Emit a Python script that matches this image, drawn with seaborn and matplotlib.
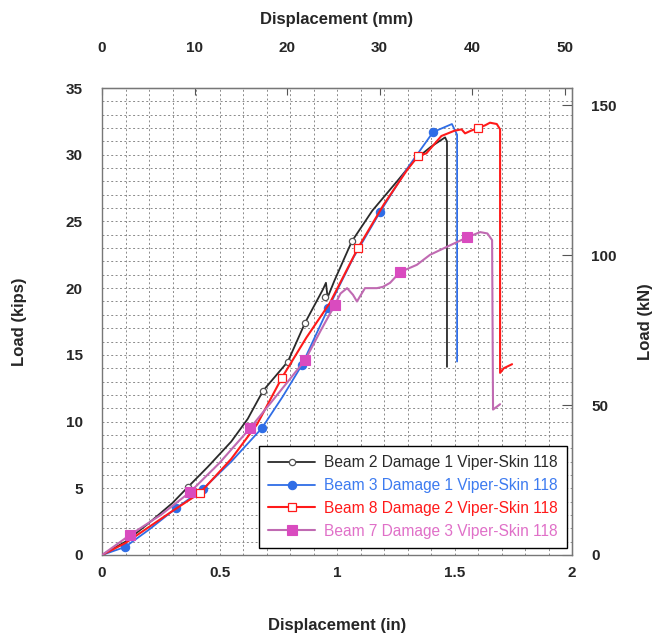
import numpy as np
import pandas as pd
import matplotlib
matplotlib.use("Agg")
import matplotlib.pyplot as plt
import seaborn as sns
from matplotlib.lines import Line2D
from matplotlib.ticker import MultipleLocator, FixedLocator

sns.set_style("white")
plt.rcParams["font.family"] = ["Liberation Sans", "DejaVu Sans"]

# ---------------- data (displacement in inches, load in kips) ----------------
labels = ["Beam 2 Damage 1 Viper-Skin 118", "Beam 3 Damage 1 Viper-Skin 118",
          "Beam 8 Damage 2 Viper-Skin 118", "Beam 7 Damage 3 Viper-Skin 118"]

b2_x = [0, 0.1, 0.2, 0.3, 0.366, 0.45, 0.55, 0.62, 0.685, 0.791, 0.864, 0.94, 0.953,
        0.96, 0.99, 1.063, 1.15, 1.26, 1.33, 1.40, 1.46, 1.468, 1.468]
b2_y = [0, 1.0, 2.4, 3.9, 5.1, 6.6, 8.5, 10.2, 12.3, 14.5, 17.4, 19.9, 20.4,
        19.3, 20.6, 23.5, 25.8, 28.1, 29.6, 30.6, 31.3, 31.0, 14.1]
b2_mx = [0.366, 0.685, 0.791, 0.864, 0.949, 1.063]
b2_my = [5.1, 12.3, 14.5, 17.4, 19.3, 23.5]

b3_x = [0, 0.098, 0.2, 0.315, 0.43, 0.55, 0.68, 0.77, 0.851, 0.963, 1.07, 1.183,
        1.3, 1.409, 1.489, 1.511, 1.511]
b3_y = [0, 0.6, 1.9, 3.5, 4.95, 7.0, 9.5, 11.9, 14.25, 18.5, 22.3, 25.7,
        29.0, 31.7, 32.3, 31.5, 14.5]
b3_mx = [0.098, 0.315, 0.43, 0.68, 0.851, 0.963, 1.183, 1.409]
b3_my = [0.6, 3.5, 4.95, 9.5, 14.25, 18.5, 25.7, 31.7]

b8_x = [0, 0.1, 0.2, 0.3, 0.417, 0.55, 0.66, 0.766, 0.87, 0.97, 1.089, 1.2, 1.3,
        1.345, 1.38, 1.444, 1.5, 1.53, 1.545, 1.57, 1.6, 1.63, 1.651, 1.68, 1.694,
        1.694, 1.71, 1.745]
b8_y = [0, 0.9, 2.1, 3.3, 4.65, 7.2, 9.8, 13.3, 16.3, 18.9, 23.0, 26.3, 28.9,
        29.9, 30.1, 31.4, 31.8, 31.9, 31.6, 31.8, 32.0, 32.2, 32.4, 32.3, 31.9,
        13.65, 14.0, 14.3]
b8_mx = [0.417, 0.766, 1.089, 1.345, 1.6]
b8_my = [4.65, 13.3, 23.0, 29.9, 32.0]

b7_x = [0, 0.119, 0.25, 0.374, 0.5, 0.63, 0.75, 0.864, 0.93, 0.991, 1.015, 1.043,
        1.068, 1.085, 1.119, 1.17, 1.196, 1.226, 1.268, 1.34, 1.396, 1.48, 1.553,
        1.609, 1.64, 1.66, 1.664, 1.694]
b7_y = [0, 1.5, 3.0, 4.7, 6.9, 9.5, 12.1, 14.6, 16.8, 18.75, 19.6, 20.0,
        19.5, 19.0, 20.0, 20.0, 20.1, 20.4, 21.2, 21.75, 22.5, 23.2, 23.8,
        24.2, 24.1, 23.6, 10.9, 11.3]
b7_mx = [0.119, 0.374, 0.63, 0.864, 0.991, 1.268, 1.553]
b7_my = [1.5, 4.7, 9.5, 14.6, 18.75, 21.2, 23.8]

# ---------------- styles ----------------
line_colors = ["#2a2a2a", "#2f6de6", "#ff1a1a", "#c06ab2"]
text_colors = ["#2a2a2a", "#3d7bf0", "#ff1a1a", "#e070c8"]
mk = [dict(marker="o", ms=4.5, mfc="white", mec="#555555", mew=0.9),
      dict(marker="o", ms=6, mfc="#2f6de6", mec="#2f6de6", mew=0.8),
      dict(marker="s", ms=6, mfc="white", mec="#ff1a1a", mew=0.9),
      dict(marker="s", ms=7.5, mfc="#d94bbf", mec="#d94bbf", mew=0.8)]
lws = [1.3, 1.3, 1.5, 1.5]

series = [(b2_x, b2_y, b2_mx, b2_my), (b3_x, b3_y, b3_mx, b3_my),
          (b8_x, b8_y, b8_mx, b8_my), (b7_x, b7_y, b7_mx, b7_my)]

fig = plt.figure(figsize=(6.65, 6.37), dpi=100)
ax = fig.add_axes([102 / 665, 1 - 555 / 637, 470 / 665, 467 / 637])

for i, (x, y, mx, my) in enumerate(series):
    df = pd.DataFrame({"x": x, "y": y})
    sns.lineplot(data=df, x="x", y="y", sort=False, estimator=None, ax=ax,
                 color=line_colors[i], lw=lws[i], zorder=3 + i)
    ax.plot(mx, my, ls="none", zorder=3.5 + i, **mk[i])

ax.set_xlim(0, 2)
ax.set_ylim(0, 35)
ax.xaxis.set_major_locator(FixedLocator([0, 0.5, 1, 1.5, 2]))
ax.xaxis.set_minor_locator(MultipleLocator(0.1))
ax.yaxis.set_major_locator(MultipleLocator(5))
ax.yaxis.set_minor_locator(MultipleLocator(1))
ax.set_xticklabels(["0", "0.5", "1", "1.5", "2"])
ax.grid(which="both", color="#8a8a8a", lw=0.7, ls=(0, (2, 2.5)), zorder=0)
ax.tick_params(which="both", direction="in", length=4, width=0.8, color="#555555",
               top=False, right=False)
ax.tick_params(axis="x", which="major", pad=8, labelsize=11)
ax.tick_params(axis="y", which="major", pad=14, labelsize=11)
for lab in ax.get_xticklabels() + ax.get_yticklabels():
    lab.set_fontweight("bold")
for s in ax.spines.values():
    s.set_color("#777777")
    s.set_linewidth(1.0)

ax.set_xlabel("Displacement (in)", fontsize=12, fontweight="bold", labelpad=27)
ax.set_ylabel("Load (kips)", fontsize=12, fontweight="bold", labelpad=28)

# secondary axes
top = ax.secondary_xaxis("top", functions=(lambda v: v * 25.4, lambda v: v / 25.4))
top.set_xticks([0, 10, 20, 30, 40, 50])
top.tick_params(direction="in", length=5, width=0.8, color="#555555", pad=24, labelsize=11)
for lab in top.get_xticklabels():
    lab.set_fontweight("bold")
top.set_xlabel("Displacement (mm)", fontsize=12, fontweight="bold", labelpad=12)

right = ax.secondary_yaxis("right", functions=(lambda v: v * 4.448222, lambda v: v / 4.448222))
right.set_yticks([0, 50, 100, 150])
right.tick_params(direction="in", length=7, width=0.8, color="#555555", pad=14, labelsize=11)
for lab in right.get_yticklabels():
    lab.set_fontweight("bold")
right.set_ylabel("Load (kN)", fontsize=12, fontweight="bold", labelpad=15)

handles = [Line2D([], [], color=line_colors[i], lw=lws[i], **mk[i]) for i in range(4)]
leg = ax.legend(handles, labels, loc="lower right", bbox_to_anchor=(0.99, 0.015),
                fontsize=11.2, frameon=True, fancybox=False, framealpha=1,
                edgecolor="black", handlelength=3.0, labelspacing=0.5,
                borderpad=0.6, handletextpad=0.6, borderaxespad=0.0)
leg.get_frame().set_linewidth(1.0)
leg.set_zorder(20)
for t, c in zip(leg.get_texts(), text_colors):
    t.set_color(c)

fig.savefig("out.png", dpi=100)
